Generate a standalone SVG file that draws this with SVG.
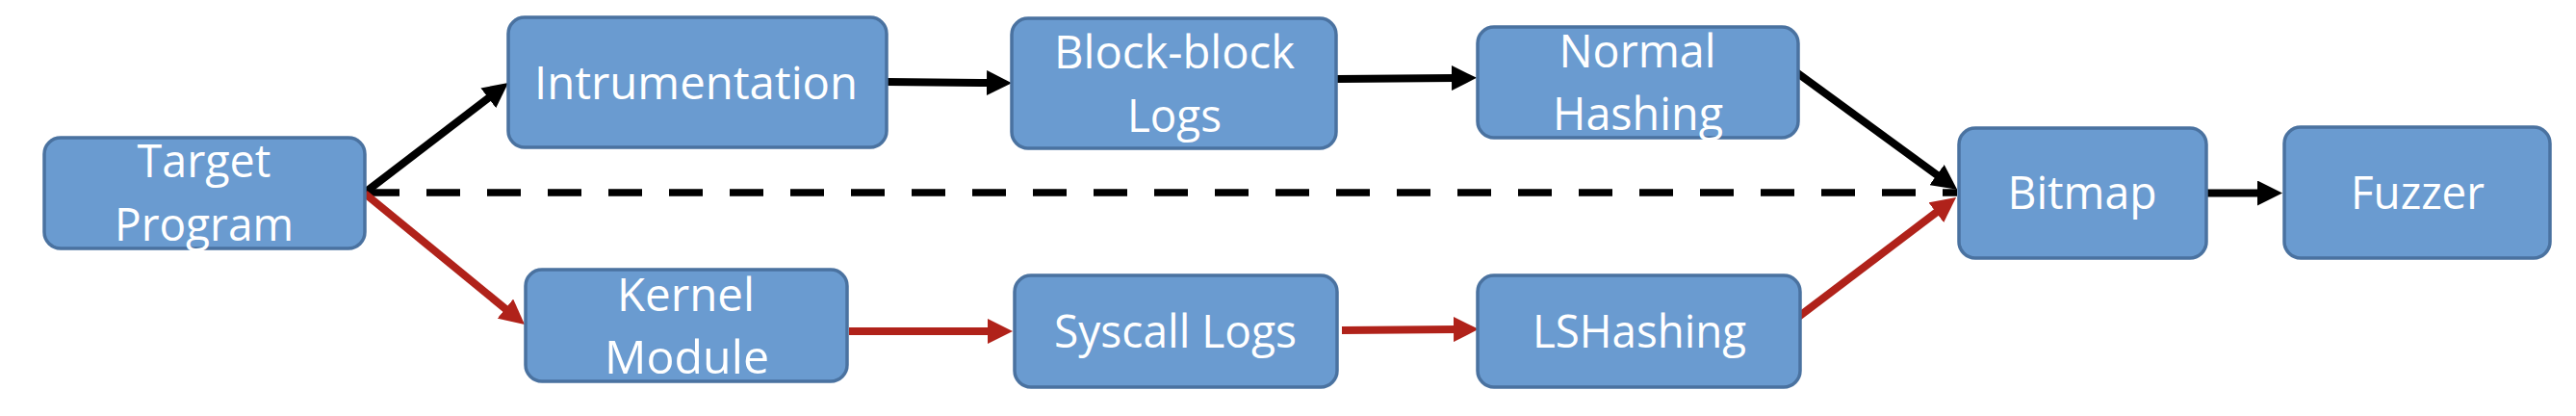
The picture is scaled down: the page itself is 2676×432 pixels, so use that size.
<svg xmlns="http://www.w3.org/2000/svg" width="2676" height="432" viewBox="0 0 2676 432">
<style>
.box{fill:#6A9BD0;stroke:#4A72A0;stroke-width:3.5}
.t{font-family:"Open Sans","Noto Sans","Liberation Sans",sans-serif;font-size:48px;fill:#ffffff;text-anchor:middle}
.k{stroke:#000000;stroke-width:8;fill:none}
.r{stroke:#B0221A;stroke-width:8;fill:none}
.d{stroke:#000000;stroke-width:7.5;fill:none;stroke-dasharray:35 28}
</style>
<defs>
<marker id="ak" markerUnits="userSpaceOnUse" markerWidth="26" markerHeight="26" viewBox="0 0 26 26" refX="4" refY="13" orient="auto">
<path d="M0,0 L26,13 L0,26 Z" fill="#000000"/>
</marker>
<marker id="ar" markerUnits="userSpaceOnUse" markerWidth="26" markerHeight="26" viewBox="0 0 26 26" refX="4" refY="13" orient="auto">
<path d="M0,0 L26,13 L0,26 Z" fill="#B0221A"/>
</marker>
</defs>
<g id="connectors">
<line class="d" x1="380" y1="200" x2="2033" y2="200"/>
<line class="k" x1="379" y1="200" x2="510.5" y2="99.4" marker-end="url(#ak)"/>
<line class="k" x1="921" y1="85" x2="1029" y2="86" marker-end="url(#ak)"/>
<line class="k" x1="1389" y1="82" x2="1512" y2="81" marker-end="url(#ak)"/>
<line class="k" x1="1866" y1="75" x2="2015.3" y2="183.9" marker-end="url(#ak)"/>
<line class="k" x1="2292" y1="200.5" x2="2349" y2="200.5" marker-end="url(#ak)"/>
<line class="r" x1="379" y1="201" x2="528" y2="323.1" marker-end="url(#ar)"/>
<line class="r" x1="882" y1="344" x2="1030" y2="344" marker-end="url(#ar)"/>
<line class="r" x1="1394" y1="343" x2="1514" y2="342" marker-end="url(#ar)"/>
<line class="r" x1="1867" y1="330" x2="2014.5" y2="218.3" marker-end="url(#ar)"/>
</g>
<g id="target">
<rect class="box" x="46" y="143" width="333" height="115" rx="17"/>
<text class="t" x="212" y="184" textLength="139" lengthAdjust="spacingAndGlyphs">Target</text>
<text class="t" x="212" y="250" textLength="186" lengthAdjust="spacingAndGlyphs">Program</text>
</g>
<g id="intrumentation">
<rect class="box" x="528" y="18" width="393" height="135" rx="17"/>
<text class="t" x="723" y="103" textLength="336" lengthAdjust="spacingAndGlyphs">Intrumentation</text>
</g>
<g id="blockblock">
<rect class="box" x="1051" y="19" width="337" height="135" rx="17"/>
<text class="t" x="1220" y="71" textLength="250" lengthAdjust="spacingAndGlyphs">Block-block</text>
<text class="t" x="1220" y="137" textLength="98" lengthAdjust="spacingAndGlyphs">Logs</text>
</g>
<g id="normalhashing">
<rect class="box" x="1535" y="28" width="333" height="115" rx="17"/>
<text class="t" x="1701" y="70" textLength="163" lengthAdjust="spacingAndGlyphs">Normal</text>
<text class="t" x="1701.5" y="135" textLength="177" lengthAdjust="spacingAndGlyphs">Hashing</text>
</g>
<g id="kernel">
<rect class="box" x="546" y="280" width="334" height="116" rx="17"/>
<text class="t" x="712.5" y="323" textLength="143" lengthAdjust="spacingAndGlyphs">Kernel</text>
<text class="t" x="713.5" y="388" textLength="171" lengthAdjust="spacingAndGlyphs">Module</text>
</g>
<g id="syscall">
<rect class="box" x="1054" y="286" width="335" height="116" rx="17"/>
<text class="t" x="1221" y="361" textLength="252" lengthAdjust="spacingAndGlyphs">Syscall Logs</text>
</g>
<g id="lshashing">
<rect class="box" x="1535" y="286" width="335" height="116" rx="17"/>
<text class="t" x="1703" y="361" textLength="222" lengthAdjust="spacingAndGlyphs">LSHashing</text>
</g>
<g id="bitmap">
<rect class="box" x="2035" y="133" width="257" height="135" rx="17"/>
<text class="t" x="2163" y="217" textLength="155" lengthAdjust="spacingAndGlyphs">Bitmap</text>
</g>
<g id="fuzzer">
<rect class="box" x="2373" y="132" width="276" height="136" rx="17"/>
<text class="t" x="2511.5" y="217" textLength="139" lengthAdjust="spacingAndGlyphs">Fuzzer</text>
</g>
</svg>
